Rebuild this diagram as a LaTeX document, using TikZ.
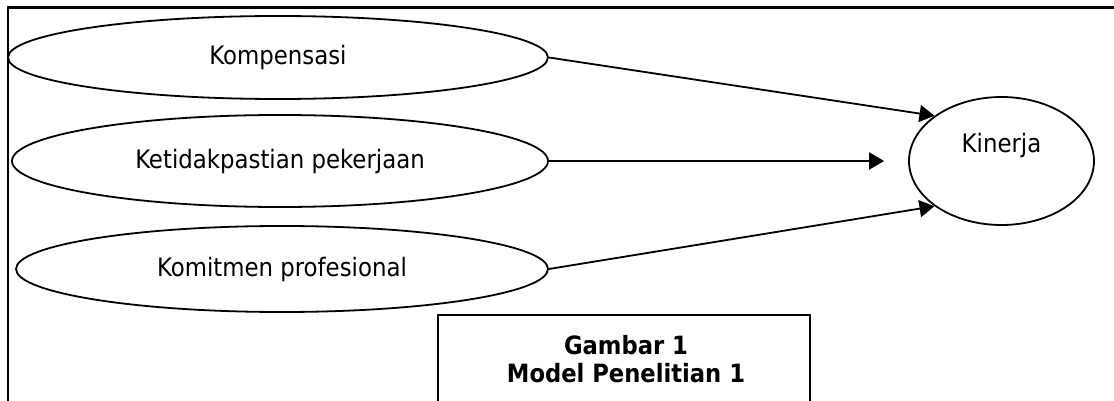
\documentclass[tikz,border=0pt]{standalone}
\usepackage{fontspec}
\setmainfont{DejaVu Sans Condensed}
\usetikzlibrary{shapes.geometric,arrows.meta}

\tikzset{
	factor/.style={draw, ellipse, line width=0.9pt, inner sep=0pt, font=\fontsize{12.7}{15}\selectfont},
	arr/.style={line width=0.9pt, -{Triangle[length=7.5pt,width=8.5pt]}}
}

\begin{document}
\begin{tikzpicture}[x=0.5pt, y=-0.5pt]
		%%%%% START %%%%%
		\useasboundingbox (0, 0) rectangle (1114, 401);
		
		\draw[line width=1.2pt] (8, 401) |- (1114, 7.5);
		
		\node[factor, minimum width=270pt, minimum height=41.5pt] (komp) at (278, 57.5) {Kompensasi};
		\node[factor, minimum width=268pt, minimum height=46pt] (ket) at (280, 161) {Ketidakpastian pekerjaan};
		\node[factor, minimum width=266pt, minimum height=43pt] (komit) at (282, 269) {Komitmen profesional};
		
		\node[factor, minimum width=92.5pt, minimum height=64pt,
			label={[font=\fontsize{12.7}{15}\selectfont, yshift=8pt]center:Kinerja}] (kin) at (1001.5, 161) {};
		
		\draw[arr] (komp.east) -- (kin.146);
		\draw[arr, shorten >=12pt] (ket.east) -- (kin.west);
		\draw[arr] (komit.east) -- (kin.214);
		
		\draw[line width=1pt] (438, 401) |- (810, 315) -- (810, 401);
		\node[font=\bfseries\fontsize{12.6}{14}\selectfont, align=center] (cap) at (626, 359) {Gambar 1\\Model Penelitian 1};
		
		%%%%% END %%%%%
	\end{tikzpicture}
\end{document}
